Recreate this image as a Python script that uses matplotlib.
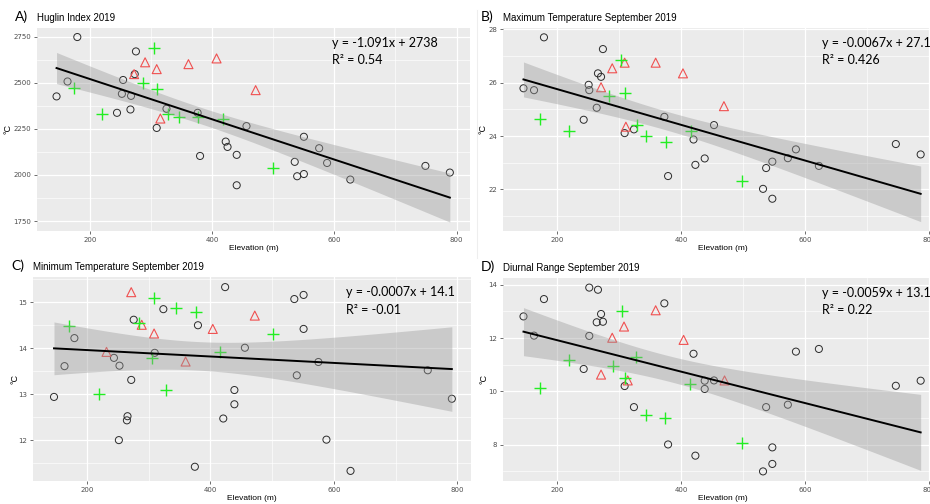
import numpy as np
import matplotlib.pyplot as plt
from matplotlib.ticker import AutoMinorLocator, MultipleLocator

# A) Huglin index
huglin_circle_x = [145, 163, 179, 244, 252, 254, 266, 267, 273, 275, 309, 325, 376, 380, 422, 425,
                   440, 440, 456, 535, 539, 550, 550, 575, 588, 626, 749, 789]
huglin_circle_y = [2426, 2507, 2748, 2337, 2440, 2515, 2355, 2429, 2547, 2670, 2255, 2359, 2337, 2103,
                   2181, 2152, 2109, 1944, 2265, 2071, 1993, 2207, 2005, 2145, 2065, 1975, 2049, 2013]
huglin_plus_x = [173, 219, 286, 305, 310, 328, 346, 376, 417, 500]
huglin_plus_y = [2471, 2332, 2498, 2688, 2464, 2333, 2317, 2317, 2304, 2040]
huglin_tri_x = [272, 290, 309, 315, 361, 407, 471]
huglin_tri_y = [2547, 2611, 2574, 2306, 2601, 2632, 2460]

# B) maximum temperature
tmax_circle_x = [146, 163, 179, 243, 251, 252, 264, 266, 271, 274, 309, 324, 373, 379, 420, 423,
                 438, 453, 532, 537, 547, 547, 572, 585, 622, 746, 786]
tmax_circle_y = [25.79, 25.72, 27.7, 24.61, 25.92, 25.72, 25.06, 26.35, 26.22, 27.26, 24.11, 24.25,
                 24.72, 22.5, 23.87, 22.92, 23.16, 24.41, 22.02, 22.8, 23.04, 21.65, 23.17, 23.5,
                 22.88, 23.7, 23.31]
tmax_plus_x = [173, 219, 284, 303, 310, 329, 343, 375, 416, 498]
tmax_plus_y = [24.64, 24.19, 25.51, 26.85, 25.6, 24.41, 24.0, 23.76, 24.2, 22.33]
tmax_tri_x = [271, 289, 309, 311, 359, 403, 469]
tmax_tri_y = [25.83, 26.54, 26.75, 24.35, 26.75, 26.35, 25.12]

# C) minimum temperature
tmin_circle_x = [147, 164, 180, 244, 252, 253, 265, 266, 272, 276, 310, 324, 375, 380, 421, 424,
                 439, 439, 456, 536, 540, 551, 551, 575, 588, 627, 752, 791]
tmin_circle_y = [12.94, 13.61, 14.22, 13.79, 12.0, 13.62, 12.43, 12.52, 13.31, 14.62, 13.9, 14.85,
                 11.42, 14.5, 12.47, 15.33, 13.09, 12.78, 14.01, 15.07, 13.41, 15.16, 14.42, 13.70,
                 12.01, 11.33, 13.52, 12.9]
tmin_plus_x = [172, 220, 284, 305, 309, 329, 344, 377, 416, 501]
tmin_plus_y = [14.48, 13.0, 14.55, 13.79, 15.1, 13.1, 14.88, 14.78, 13.91, 14.3]
tmin_tri_x = [232, 272, 289, 309, 360, 404, 472]
tmin_tri_y = [13.92, 15.22, 14.51, 14.32, 13.71, 14.42, 14.71]

# D) diurnal range
drange_circle_x = [146, 163, 179, 243, 252, 252, 264, 266, 271, 274, 309, 324, 373, 379, 420, 423,
                   438, 438, 453, 532, 537, 547, 547, 572, 585, 622, 746, 786]
drange_circle_y = [12.81, 12.09, 13.46, 10.84, 13.89, 12.08, 12.59, 13.81, 12.9, 12.61, 10.2, 9.41,
                   13.3, 8.01, 11.41, 7.59, 10.40, 10.09, 10.41, 7.0, 9.41, 7.9, 7.28, 9.5, 11.49,
                   11.59, 10.21, 10.40]
drange_plus_x = [173, 220, 291, 304, 309, 328, 343, 374, 415, 498]
drange_plus_y = [10.11, 11.18, 10.94, 13.0, 10.51, 11.3, 9.13, 8.99, 10.29, 8.08]
drange_tri_x = [271, 289, 308, 314, 359, 404, 470]
drange_tri_y = [10.63, 12.01, 12.43, 10.41, 13.04, 11.93, 10.41]

# fitted lines (slope, intercept, R2) as printed on each panel
huglin_fit = (-1.091, 2738, 0.54)
tmax_fit = (-0.0067, 27.1, 0.426)
tmin_fit = (-0.0007, 14.1, -0.01)
drange_fit = (-0.0059, 13.1, 0.22)

T95 = 2.02  # t quantile, ~43 df

W, H = 930, 504
fig = plt.figure(figsize=(W / 100, H / 100), dpi=100)


def add_axes_px(left, top, width, height):
    return fig.add_axes([left / W, 1 - (top + height) / H, width / W, height / H])


def draw_panel(ax, circ, plus, tri, fit, yticks, ylim, letter, title, eq_x, ylab_x):
    slope, intercept, r2 = fit
    ax.set_facecolor('#EBEBEB')
    for s in ax.spines.values():
        s.set_visible(False)

    ax.scatter(circ[0], circ[1], s=26, facecolors='none', edgecolors='#2b2b2b', linewidths=0.7, zorder=3)
    ax.scatter(tri[0], tri[1], s=42, marker='^', facecolors='none', edgecolors='#F05050', linewidths=0.8, zorder=3)
    ax.scatter(plus[0], plus[1], s=70, marker='+', color='#22EE22', linewidths=1.0, zorder=3)

    # regression line with 95% confidence band
    xs = np.array(circ[0] + plus[0] + tri[0], dtype=float)
    ys = np.array(circ[1] + plus[1] + tri[1], dtype=float)
    n = len(xs)
    resid = ys - (slope * xs + intercept)
    sd = np.sqrt(np.sum(resid ** 2) / (n - 2))
    xbar = xs.mean()
    sxx = np.sum((xs - xbar) ** 2)
    xfit = np.linspace(xs.min(), xs.max(), 100)
    yfit = slope * xfit + intercept
    se = sd * np.sqrt(1 / n + (xfit - xbar) ** 2 / sxx)
    ax.fill_between(xfit, yfit - T95 * se, yfit + T95 * se, color='#999999', alpha=0.4, lw=0, zorder=4)
    ax.plot(xfit, yfit, color='black', lw=1.4, zorder=5)

    ax.set_xlim(113, 822)
    ax.set_ylim(*ylim)
    ax.set_xticks([200, 400, 600, 800])
    ax.set_yticks(yticks)
    ax.xaxis.set_minor_locator(MultipleLocator(100))
    ax.yaxis.set_minor_locator(AutoMinorLocator(2))
    ax.grid(which='major', color='white', lw=0.9, zorder=0)
    ax.grid(which='minor', color='white', lw=0.45, zorder=0)
    ax.set_axisbelow(True)
    ax.tick_params(which='major', length=2.5, width=0.5, color='#333333', pad=1.5,
                   labelsize=5, labelcolor='#4D4D4D')
    ax.tick_params(which='minor', length=0)

    ax.text(0.5, -0.085, 'Elevation (m)', transform=ax.transAxes, ha='center', va='center',
            fontsize=6, family='Liberation Sans')
    ax.text(ylab_x, 0.5, '°C', transform=ax.transAxes, rotation=90, ha='center', va='center',
            fontsize=6.5, family='Liberation Sans')
    ax.text(0, 1.05, title, transform=ax.transAxes, ha='left', va='center',
            fontsize=7, family='Liberation Sans')
    ax.text(-0.035, 1.055, letter, transform=ax.transAxes, ha='center', va='center',
            fontsize=10, family='Lato')

    ax.text(eq_x, 0.925, f'y = {slope:g}x + {intercept:g}', transform=ax.transAxes,
            ha='left', va='center', fontsize=9, family='Lato')
    ax.text(eq_x, 0.84, f'R² = {r2:g}', transform=ax.transAxes,
            ha='left', va='center', fontsize=9, family='Lato')


ax_a = add_axes_px(37, 28, 433, 203)
draw_panel(ax_a, (huglin_circle_x, huglin_circle_y), (huglin_plus_x, huglin_plus_y),
           (huglin_tri_x, huglin_tri_y), huglin_fit, [1750, 2000, 2250, 2500, 2750], (1696, 2797),
           'A)', 'Huglin Index 2019', 0.681, -0.066)

ax_b = add_axes_px(503, 28, 440, 203)
draw_panel(ax_b, (tmax_circle_x, tmax_circle_y), (tmax_plus_x, tmax_plus_y),
           (tmax_tri_x, tmax_tri_y), tmax_fit, [22, 24, 26, 28], (20.44, 28.05),
           'B)', 'Maximum Temperature September 2019', 0.724, -0.045)

ax_c = add_axes_px(33, 277, 438, 204)
draw_panel(ax_c, (tmin_circle_x, tmin_circle_y), (tmin_plus_x, tmin_plus_y),
           (tmin_tri_x, tmin_tri_y), tmin_fit, [12, 13, 14, 15], (11.11, 15.55),
           'C)', 'Minimum Temperature September 2019', 0.715, -0.041)

ax_d = add_axes_px(503, 278, 440, 203)
draw_panel(ax_d, (drange_circle_x, drange_circle_y), (drange_plus_x, drange_plus_y),
           (drange_tri_x, drange_tri_y), drange_fit, [8, 10, 12, 14], (6.64, 14.25),
           'D)', 'Diurnal Range September 2019', 0.724, -0.043)

# faint border between the two upper panels
fig.add_artist(plt.Line2D([477 / W, 477 / W], [1 - 258 / H, 1 - 10 / H], color='#EEEEEE', lw=0.8))

fig.savefig('out.png', dpi=100)
